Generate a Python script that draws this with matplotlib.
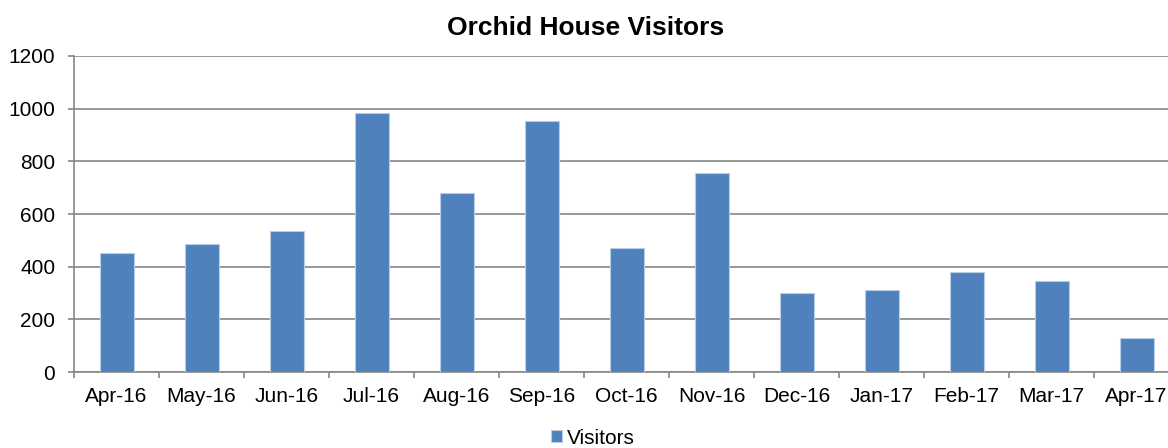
import matplotlib
matplotlib.use('Agg')
import matplotlib.pyplot as plt
import numpy as np

months = ['Apr-16', 'May-16', 'Jun-16', 'Jul-16', 'Aug-16', 'Sep-16', 'Oct-16',
          'Nov-16', 'Dec-16', 'Jan-17', 'Feb-17', 'Mar-17', 'Apr-17']
visitors = [453, 485, 534, 984, 678, 952, 472, 757, 301, 310, 378, 346, 130]

plt.rcParams['font.family'] = ['Liberation Sans', 'DejaVu Sans']

fig = plt.figure(figsize=(11.68, 4.48), dpi=100)
# axes run past the right edge, as in the original
ax = fig.add_axes([74 / 1168, 76 / 448, 1105 / 1168, 316 / 448])

x = np.arange(len(months))
ax.bar(x, visitors, width=0.4, color='#4F81BD', edgecolor='#B9CDE5',
       linewidth=0.8, label='Visitors', zorder=3)

ax.set_xlim(-0.5, len(months) - 0.5)
ax.set_ylim(0, 1200)
ax.set_yticks(range(0, 1201, 200))
ax.yaxis.grid(True, color='#868686', linewidth=1.2, zorder=0)

ax.set_xticks(x)
ax.set_xticklabels(months)
ax.set_xticks(np.arange(-0.5, len(months), 1), minor=True)
ax.tick_params(axis='x', which='major', length=0, pad=11, labelsize=15)
ax.tick_params(axis='x', which='minor', length=4.5, width=1.2, color='#868686')
ax.tick_params(axis='y', length=4.5, width=1.2, color='#868686', pad=9,
               labelsize=15)

for side in ['top', 'right']:
    ax.spines[side].set_visible(False)
for side in ['left', 'bottom']:
    ax.spines[side].set_color('#868686')
    ax.spines[side].set_linewidth(1.2)

fig.text(586 / 1168, 1 - 28 / 448, 'Orchid House Visitors', ha='center',
         va='center', fontsize=19, fontweight='bold')

fig.legend(loc='center', bbox_to_anchor=(593 / 1168, 1 - 438 / 448),
           frameon=False, fontsize=15, handlelength=0.5, handleheight=0.5,
           handletextpad=0.25)

fig.savefig('out.png', dpi=100)
